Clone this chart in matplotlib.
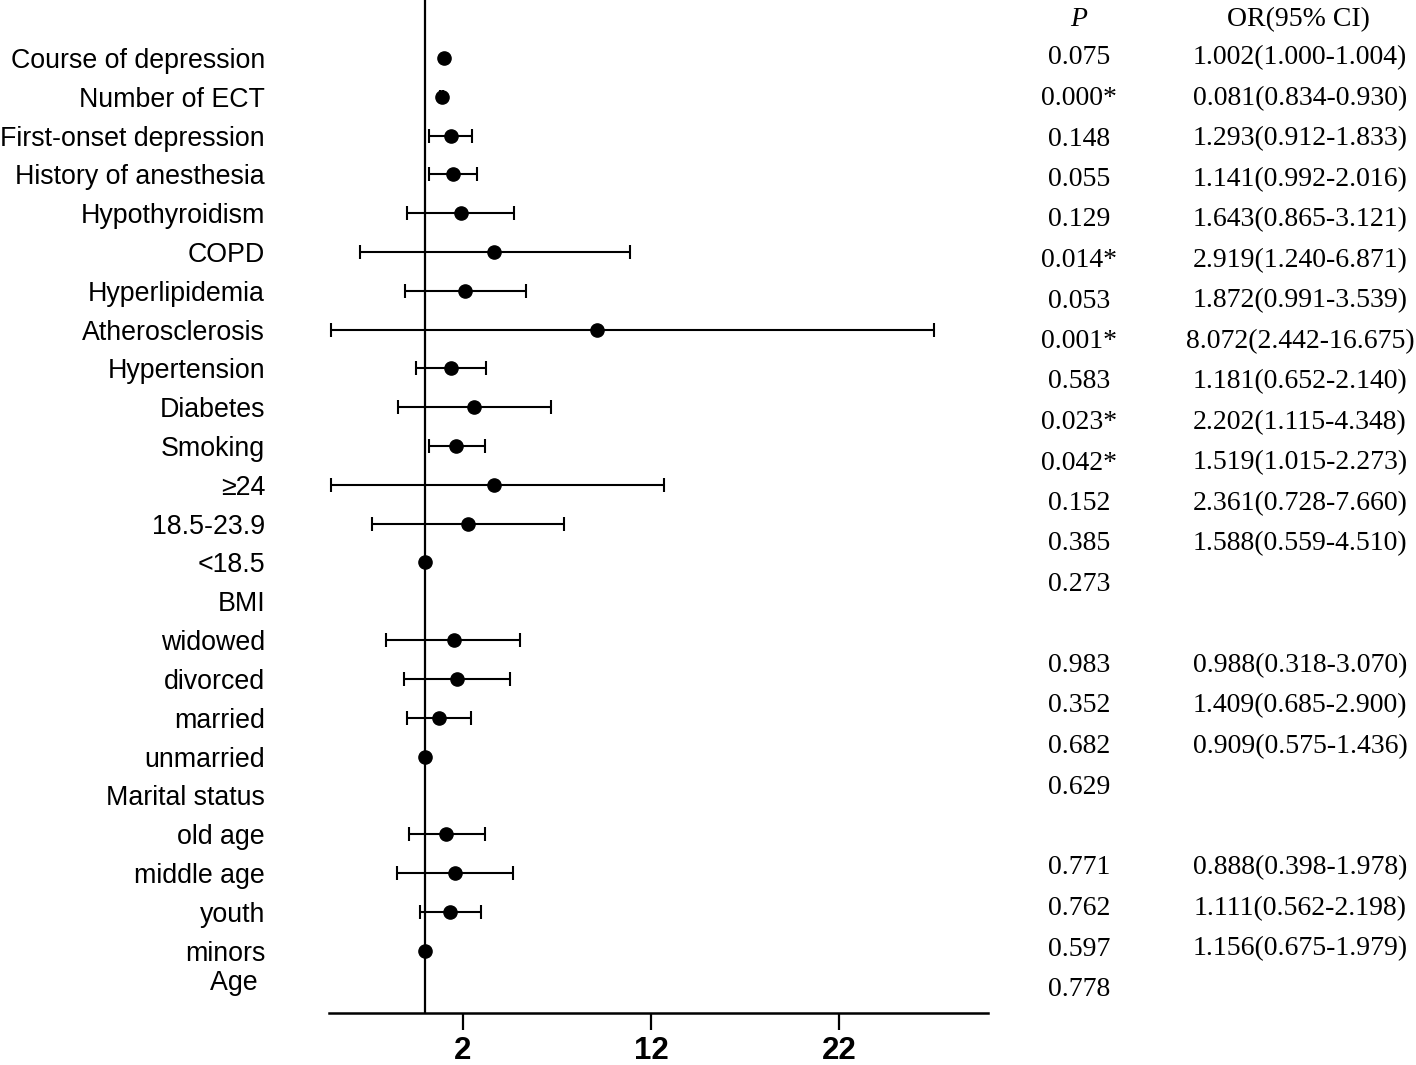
import matplotlib
matplotlib.use("Agg")
import matplotlib.pyplot as plt

# ---- data (axis units) ----
labels = ["Course of depression", "Number of ECT", "First-onset depression",
          "History of anesthesia", "Hypothyroidism", "COPD", "Hyperlipidemia",
          "Atherosclerosis", "Hypertension", "Diabetes", "Smoking", "\u226524",
          "18.5-23.9", "<18.5", "BMI", "widowed", "divorced", "married",
          "unmarried", "Marital status", "old age", "middle age", "youth",
          "minors", "Age "]
est = [1.01, 0.89, 1.38, 1.49, 1.90, 3.68, 2.14, 9.13, 1.37, 2.60, 1.67, 3.64,
       2.27, 0.0, None, 1.53, 1.72, 0.72, 0.0, None, 1.12, 1.60, 1.30, 0.0, None]
lo = [1.01, 0.82, 0.23, 0.23, -0.94, -3.47, -1.06, -4.98, -0.50, -1.46, 0.23, -4.98,
      -2.82, 0.0, None, -2.06, -1.11, -0.95, 0.0, None, -0.86, -1.48, -0.28, 0.0, None]
hi = [1.01, 0.95, 2.51, 2.76, 4.73, 10.86, 5.35, 27.01, 3.25, 6.67, 3.18, 12.67,
      7.39, 0.0, None, 5.07, 4.52, 2.43, 0.0, None, 3.18, 4.66, 2.99, 0.0, None]
has_ci = [False, True, True, True, True, True, True, True, True, True, True, True,
          True, False, False, True, True, True, False, False, True, True, True, False, False]

xticks = [2, 12, 22]

p_values = ["0.075", "0.000*", "0.148", "0.055", "0.129", "0.014*", "0.053", "0.001*",
            "0.583", "0.023*", "0.042*", "0.152", "0.385", "0.273", "", "0.983",
            "0.352", "0.682", "0.629", "", "0.771", "0.762", "0.597", "0.778"]
or_ci = ["1.002(1.000-1.004)", "0.081(0.834-0.930)", "1.293(0.912-1.833)",
         "1.141(0.992-2.016)", "1.643(0.865-3.121)", "2.919(1.240-6.871)",
         "1.872(0.991-3.539)", "8.072(2.442-16.675)", "1.181(0.652-2.140)",
         "2.202(1.115-4.348)", "1.519(1.015-2.273)", "2.361(0.728-7.660)",
         "1.588(0.559-4.510)", "", "", "0.988(0.318-3.070)", "1.409(0.685-2.900)",
         "0.909(0.575-1.436)", "", "", "0.888(0.398-1.978)", "1.111(0.562-2.198)",
         "1.156(0.675-1.979)", ""]

# ---- figure ----
W, H = 1416, 1065
fig = plt.figure(figsize=(W / 100, H / 100), dpi=100)
ax = fig.add_axes([329 / W, 52 / H, (988 - 329) / W, 1 - 52 / H])

ypos = list(range(len(labels)))
ypos[-1] = 23.75  # 'Age' label sits slightly higher

for i in range(len(labels)):
    if est[i] is None:
        continue
    if has_ci[i]:
        ax.errorbar(est[i], ypos[i], xerr=[[est[i] - lo[i]], [hi[i] - est[i]]],
                    fmt="o", color="black", ms=9.5, elinewidth=1.5,
                    capsize=4.8, capthick=1.5, zorder=3)
    else:
        ax.plot(est[i], ypos[i], "o", color="black", ms=9.5, zorder=3)

ax.axvline(0, color="black", lw=1.6, zorder=2)

ax.set_xlim(-5.1, 29.9)
ax.set_ylim(24.61, -1.495)
ax.set_xticks(xticks)
ax.set_xticklabels([str(t) for t in xticks], fontsize=22.5, fontweight="bold",
                   family="Liberation Sans")
ax.tick_params(axis="x", length=12.5, width=1.6, pad=4)
ax.set_yticks(ypos)
ax.set_yticklabels(labels, fontsize=19.3, family="Liberation Sans")
ax.tick_params(axis="y", length=0, pad=46)
for s in ["top", "right", "left"]:
    ax.spines[s].set_visible(False)
ax.spines["bottom"].set_linewidth(1.8)

# ---- table on the right ----
def fy(k):
    return 1 - (58 + 40.5 * k) / H

fs = 20
fig.text(1079 / W, fy(-1) - 2 / H, "P", fontsize=fs, family="Liberation Serif",
         style="italic", ha="center", va="center")
fig.text(1298 / W, fy(-1) - 2 / H, "OR(95% CI)", fontsize=fs, family="Liberation Serif",
         ha="center", va="center")
for k, (pv, oc) in enumerate(zip(p_values, or_ci)):
    if pv:
        fig.text(1079 / W, fy(k), pv, fontsize=fs, family="Liberation Serif",
                 ha="center", va="center")
    if oc:
        fig.text(1300 / W, fy(k), oc, fontsize=fs, family="Liberation Serif",
                 ha="center", va="center")

fig.savefig("out.png", dpi=100)
